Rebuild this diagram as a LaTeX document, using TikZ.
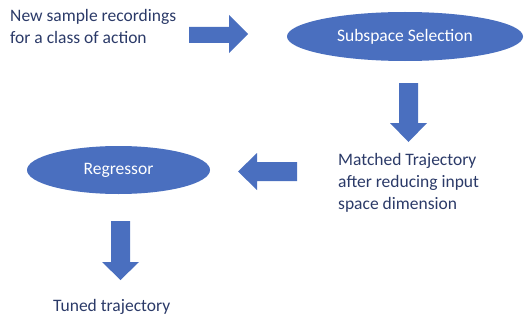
\documentclass[tikz,border=0pt]{standalone}
\usepackage{fontspec}
\setmainfont{Carlito}
\usetikzlibrary{shapes.geometric}
\definecolor{fillblue}{HTML}{4A6FBF}
\definecolor{txtnavy}{HTML}{2B3A68}
\begin{document}
\begin{tikzpicture}[x=1pt,y=-1pt,
  lbl/.style={text=txtnavy, font=\fontsize{17.5}{22}\selectfont, align=left, inner sep=0pt},
  oval/.style={ellipse, fill=fillblue, text=white, font=\fontsize{17.5}{20}\selectfont, inner sep=0pt},
  blk/.style={fill=fillblue}]
\useasboundingbox (0,0) rectangle (529,321);
% texts
\node[lbl, anchor=west] (input) at (10,26) {New sample recordings\\for a class of action};
\node[lbl, anchor=west] (matched) at (338,183) {Matched Trajectory\\after reducing input\\space dimension};
\node[lbl, anchor=west] (tuned) at (53,307) {Tuned trajectory};
% ellipses
\node[oval, minimum width=236pt, minimum height=49pt] (subspace) at (405,36.5) {Subspace Selection};
\node[oval, minimum width=183pt, minimum height=48pt] (regressor) at (118.5,170) {Regressor};
% block arrows
\fill[blk] (189,27) -- (229,27) -- (229,15) -- (248,34) -- (229,53) -- (229,43) -- (189,43) -- cycle;
\fill[blk] (399,83) -- (418,83) -- (418,123) -- (427,123) -- (408.5,142) -- (390,123) -- (399,123) -- cycle;
\fill[blk] (297,162) -- (257,162) -- (257,153) -- (238,171.5) -- (257,190) -- (257,181) -- (297,181) -- cycle;
\fill[blk] (111,221) -- (130,221) -- (130,262) -- (139,262) -- (120.5,280) -- (102,262) -- (111,262) -- cycle;
\end{tikzpicture}
\end{document}
